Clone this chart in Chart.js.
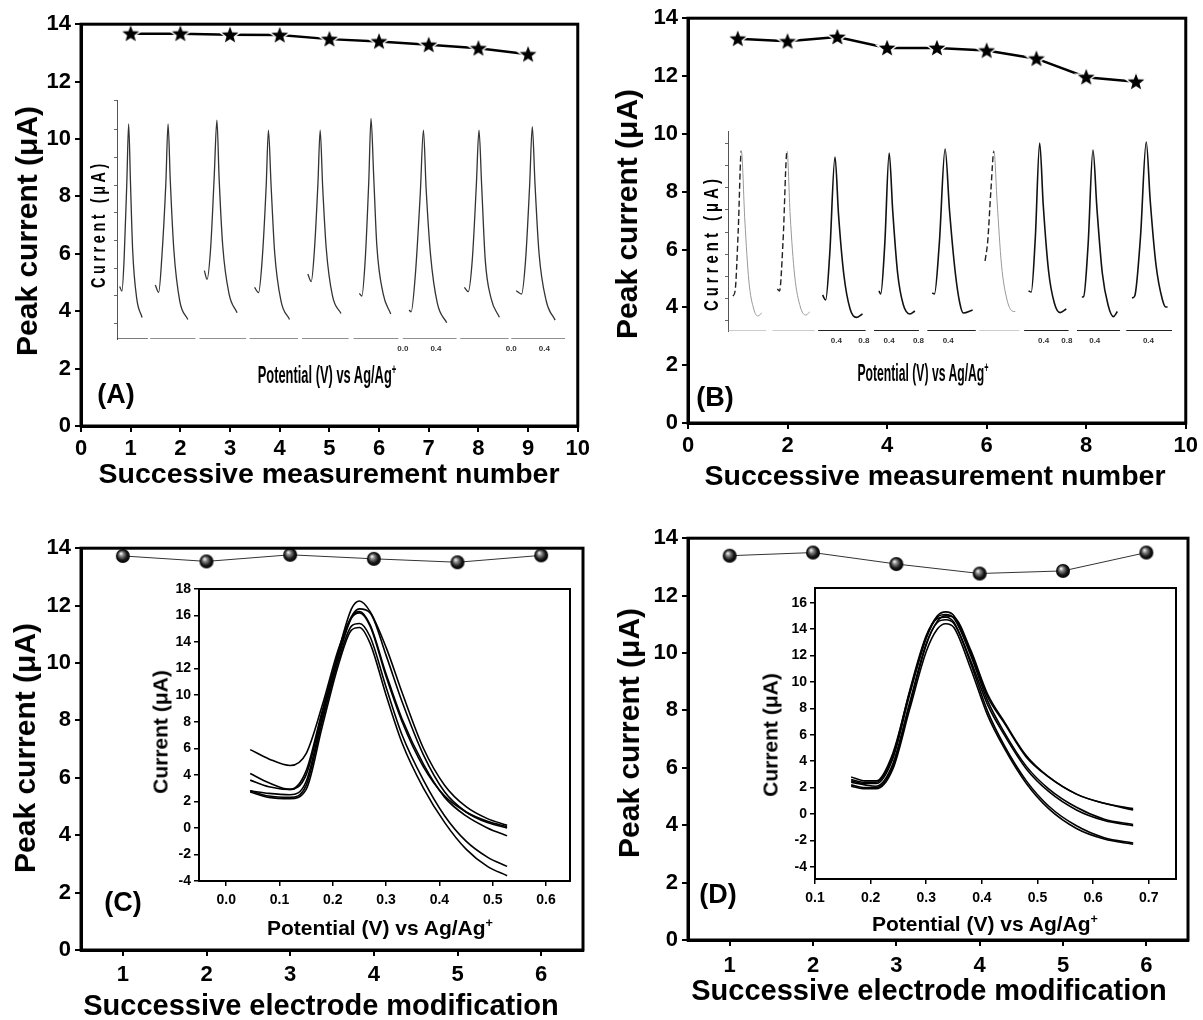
<!DOCTYPE html>
<html>
<head>
<meta charset="utf-8">
<title>Peak current stability</title>
<script src="https://cdn.jsdelivr.net/npm/chart.js@4.4.1/dist/chart.umd.min.js"></script>
<style>
  body { margin:0; width:1203px; height:1020px; position:relative; background:#fff; overflow:hidden;
         font-family:"Liberation Sans", Arial, sans-serif; }
  canvas { position:absolute; }
  .lbl { position:absolute; z-index:2; font-weight:bold; white-space:nowrap; color:#000; line-height:1; }
  .lbl sup { font-size:60%; vertical-align:super; line-height:0; }
</style>
</head>
<body>
<!-- main axis titles -->
<div class="lbl" style="left:27px;top:231px;font-size:30px;transform:translate(-50%,-50%) rotate(-90deg)">Peak current (μA)</div>
<div class="lbl" style="left:627px;top:214px;font-size:30px;transform:translate(-50%,-50%) rotate(-90deg)">Peak current (μA)</div>
<div class="lbl" style="left:25px;top:748px;font-size:30px;transform:translate(-50%,-50%) rotate(-90deg)">Peak current (μA)</div>
<div class="lbl" style="left:629px;top:733px;font-size:30px;transform:translate(-50%,-50%) rotate(-90deg)">Peak current (μA)</div>
<div class="lbl" style="left:329px;top:473px;font-size:28.5px;transform:translate(-50%,-50%)">Successive measurement number</div>
<div class="lbl" style="left:935px;top:475px;font-size:28.5px;transform:translate(-50%,-50%)">Successive measurement number</div>
<div class="lbl" style="left:321px;top:1005px;font-size:29px;transform:translate(-50%,-50%)">Successive electrode modification</div>
<div class="lbl" style="left:929px;top:990px;font-size:29px;transform:translate(-50%,-50%)">Successive electrode modification</div>
<!-- panel letters -->
<div class="lbl" style="left:116px;top:394px;font-size:27px;transform:translate(-50%,-50%)">(A)</div>
<div class="lbl" style="left:715px;top:397px;font-size:27px;transform:translate(-50%,-50%)">(B)</div>
<div class="lbl" style="left:123px;top:902px;font-size:27px;transform:translate(-50%,-50%)">(C)</div>
<div class="lbl" style="left:718px;top:894px;font-size:27px;transform:translate(-50%,-50%)">(D)</div>
<!-- inset titles -->
<div class="lbl" style="left:327px;top:375px;font-size:23px;transform:translate(-50%,-50%) scaleX(0.56)">Potential (V) vs Ag/Ag<sup>+</sup></div>
<div class="lbl" style="left:923px;top:373px;font-size:23px;transform:translate(-50%,-50%) scaleX(0.53)">Potential (V) vs Ag/Ag<sup>+</sup></div>
<div class="lbl" style="left:98px;top:224px;font-size:20px;letter-spacing:5px;transform:translate(-50%,-50%) rotate(-90deg) scaleX(0.72)">Current (μA)</div>
<div class="lbl" style="left:711px;top:243px;font-size:20px;letter-spacing:5.5px;transform:translate(-50%,-50%) rotate(-90deg) scaleX(0.74)">Current (μA)</div>
<div class="lbl" style="left:380px;top:927px;font-size:21px;transform:translate(-50%,-50%)">Potential (V) vs Ag/Ag<sup>+</sup></div>
<div class="lbl" style="left:985px;top:923px;font-size:21px;transform:translate(-50%,-50%)">Potential (V) vs Ag/Ag<sup>+</sup></div>
<div class="lbl" style="left:160px;top:732px;font-size:21px;transform:translate(-50%,-50%) rotate(-90deg)">Current (μA)</div>
<div class="lbl" style="left:770px;top:735px;font-size:21px;transform:translate(-50%,-50%) rotate(-90deg)">Current (μA)</div>

<script>
// ---- values ----
const runNo = [1, 2, 3, 4, 5, 6, 7, 8, 9];
const peakA = [13.67, 13.67, 13.63, 13.62, 13.48, 13.40, 13.28, 13.16, 12.95];
const peakB = [13.29, 13.20, 13.35, 12.97, 12.97, 12.88, 12.60, 11.96, 11.80];
const modNo = [1, 2, 3, 4, 5, 6];
const peakC = [13.73, 13.54, 13.77, 13.63, 13.51, 13.75];
const peakD = [13.39, 13.50, 13.10, 12.77, 12.86, 13.50];

const ticksY14 = [0, 2, 4, 6, 8, 10, 12, 14];
const ticksX10A = [0, 1, 2, 3, 4, 5, 6, 7, 8, 9, 10];
const ticksX10B = [0, 2, 4, 6, 8, 10];

// inset A/B: nine stored voltammograms side by side (inset units)
const tracesA = [
  [[0.6,2.2],[1.1,2.0],[1.6,3.4],[2.2,6.6],[2.6,9.0],[3.0,6.6],[3.5,3.7],[4.4,1.7],[5.6,0.9]],
  [[8.55,2.26],[9.3,1.95],[10.0,3.4],[10.9,6.5],[11.4,9.0],[11.9,6.6],[12.7,3.7],[14.0,1.6],[15.8,0.82]],
  [[19.5,2.86],[20.1,2.5],[20.9,3.8],[21.7,6.8],[22.3,9.16],[22.8,6.7],[23.6,3.9],[25.0,1.9],[26.8,1.1]],
  [[30.7,2.16],[31.6,1.94],[32.4,3.3],[33.3,6.4],[33.8,8.74],[34.4,6.4],[35.2,3.6],[36.6,1.6],[38.5,0.82]],
  [[42.6,2.72],[43.35,2.4],[44.05,3.67],[44.85,6.5],[45.35,8.74],[45.9,6.4],[46.7,3.8],[48.1,1.8],[50.0,1.07]],
  [[54.1,1.91],[54.65,1.8],[55.4,3.3],[56.2,6.6],[56.7,9.23],[57.3,6.8],[58.0,3.9],[59.4,1.9],[61.1,1.05]],
  [[65.2,1.21],[65.65,1.14],[66.6,2.7],[67.7,6.1],[68.4,8.74],[69.0,6.3],[70.0,3.5],[71.5,1.5],[73.6,0.68]],
  [[77.55,2.16],[78.4,1.98],[79.3,3.3],[80.2,6.4],[80.8,8.74],[81.4,6.4],[82.2,3.3],[83.5,1.7],[85.35,0.91]],
  [[89.1,2.02],[90.3,1.88],[91.2,3.3],[92.1,6.4],[92.7,8.88],[93.3,6.5],[94.2,3.6],[95.8,1.6],[97.8,0.79]]
];
const tracesB = [
  [[1.1,1.75],[1.6,2.0],[2.3,5.0],[3.0,9.0],[3.8,5.5],[4.7,2.5],[5.8,1.1],[6.7,0.75],[7.6,0.9]],
  [[11.1,2.1],[11.6,2.0],[12.4,4.5],[13.3,9.0],[14.0,5.8],[15.0,2.8],[16.3,1.2],[17.5,0.8],[18.4,0.95]],
  [[21.3,1.8],[22.0,1.55],[22.9,3.8],[24.1,8.7],[24.9,5.8],[26.1,2.8],[27.5,1.1],[28.9,0.68],[30.3,0.85]],
  [[34.0,2.0],[34.4,1.85],[35.3,4.3],[36.3,8.9],[37.1,6.0],[38.2,2.9],[39.5,1.3],[41.0,0.85],[42.1,1.0]],
  [[46.0,1.9],[46.5,1.85],[47.6,4.4],[48.9,9.1],[49.9,6.0],[51.2,2.9],[52.2,1.4],[53.0,0.9],[55.1,1.05]],
  [[57.9,3.5],[58.5,4.5],[59.2,7.0],[59.9,9.0],[60.6,6.5],[61.6,3.3],[62.8,1.6],[64.0,1.0],[64.7,0.97]],
  [[67.7,2.0],[68.3,1.95],[69.2,4.6],[70.2,9.4],[71.0,6.3],[72.2,3.0],[73.5,1.4],[74.8,0.92],[76.2,1.1]],
  [[79.7,1.7],[80.1,1.72],[81.1,4.3],[82.2,9.05],[83.1,6.1],[84.3,2.9],[85.6,1.3],[86.8,0.72],[87.7,0.97]],
  [[91.0,1.65],[91.6,1.75],[92.9,4.7],[94.2,9.45],[95.1,6.5],[96.4,3.3],[97.8,1.6],[98.6,1.2],[99.0,1.2]]
];
const faintB = [true, true, false, false, false, true, false, false, false];
const segA = [[0,6.9],[7.4,17.5],[18.4,28.8],[29.6,40.4],[41.3,51.7],[52.8,62.8],[63.8,75.8],[76.6,87.4],[88.0,100]];
const segB = [[0,8.6],[10.0,19.5],[20.3,31.0],[32.9,43.0],[44.9,55.8],[56.6,65.6],[66.7,76.7],[78.6,88.3],[89.7,100]];
const segLabA = [[63.8,'0.0'],[71.2,'0.4'],[88.0,'0.0'],[95.4,'0.4']];
const segLabB = [[24.4,'0.4'],[30.6,'0.8'],[36.3,'0.4'],[42.9,'0.8'],[49.6,'0.4'],[71.1,'0.4'],[76.3,'0.8'],[82.6,'0.4'],[94.7,'0.4']];
const yTickA = [0.63, 1.8, 2.96, 4.11, 5.29, 6.44, 7.6, 8.77, 9.97];
const yTickB = [0.55, 1.64, 2.75, 3.85, 4.95, 6.09, 7.17, 8.27, 9.39];

// inset C/D: overlaid DPV scans
const potC = [0.045,0.08,0.12,0.15,0.18,0.21,0.235,0.25,0.27,0.30,0.33,0.37,0.41,0.45,0.49,0.527];
const curC = [
  [5.9,5.2,4.7,5.6,9.2,13.4,15.9,16.3,15.3,11.6,8.2,4.8,2.3,0.9,0.0,-0.6],
  [4.1,3.4,2.9,4.0,8.6,13.2,16.5,17.1,16.3,13.6,10.2,6.0,3.2,1.6,0.7,0.2],
  [3.6,3.1,2.9,4.3,8.8,13.0,15.9,16.5,16.2,13.0,9.5,5.5,2.7,1.2,0.4,0.0],
  [2.8,2.6,2.5,3.5,8.3,12.8,15.8,16.2,15.2,11.4,8.0,4.6,2.4,1.2,0.5,0.1],
  [2.8,2.4,2.3,3.2,8.0,12.5,15.2,15.4,14.4,10.6,7.0,3.6,0.9,-1.0,-2.2,-2.9],
  [2.7,2.3,2.2,2.9,7.6,12.2,14.9,15.1,13.9,10.0,6.4,3.0,0.4,-1.6,-2.9,-3.6]
];
const potD = [0.165,0.19,0.21,0.24,0.27,0.30,0.32,0.335,0.35,0.38,0.41,0.44,0.48,0.52,0.57,0.62,0.672];
const curD = [
  [2.8,2.5,2.5,4.6,9.2,13.4,15.0,15.3,15.0,12.2,8.9,6.9,4.3,2.8,1.5,0.8,0.4],
  [2.2,2.0,2.0,3.6,8.2,12.8,14.6,15.0,14.9,12.4,9.1,7.0,4.4,2.8,1.5,0.8,0.3],
  [2.5,2.3,2.3,4.2,9.0,13.3,14.9,15.1,14.8,12.0,8.6,6.2,3.6,1.9,0.5,-0.4,-0.8],
  [2.4,2.2,2.1,3.8,8.4,12.9,14.5,14.7,14.4,11.6,8.3,6.0,3.4,1.7,0.3,-0.5,-0.9],
  [2.6,2.4,2.4,4.4,9.3,13.5,14.8,14.9,14.5,11.4,7.8,5.2,2.5,0.6,-0.9,-1.8,-2.2],
  [2.1,1.9,1.9,3.4,7.9,12.3,14.0,14.4,14.1,11.0,7.5,5.0,2.3,0.4,-1.1,-1.9,-2.3]
];
const ticksC_x = [0, 0.1, 0.2, 0.3, 0.4, 0.5, 0.6];
const ticksC_y = [-4, -2, 0, 2, 4, 6, 8, 10, 12, 14, 16, 18];
const ticksD_x = [0.1, 0.2, 0.3, 0.4, 0.5, 0.6, 0.7];
const ticksD_y = [-4, -2, 0, 2, 4, 6, 8, 10, 12, 14, 16];

// ---- drawing ----
Chart.defaults.font.family = '"Liberation Sans", Arial, sans-serif';
Chart.defaults.color = '#000';

const PAD = 16;
function mount(area, mL, mB) {
  const cv = document.createElement('canvas');
  cv.width = area.r - area.l + mL + PAD;
  cv.height = area.b - area.t + mB + PAD;
  cv.style.left = (area.l - mL) + 'px';
  cv.style.top = (area.t - PAD) + 'px';
  document.body.appendChild(cv);
  return cv;
}

// box around the plot area
const frame = {
  id: 'frame',
  afterDraw(chart, args, opts) {
    const a = chart.chartArea, ctx = chart.ctx;
    ctx.save();
    ctx.lineWidth = opts.width || 3;
    ctx.strokeStyle = '#000';
    ctx.strokeRect(a.left, a.top, a.right - a.left, a.bottom - a.top);
    ctx.restore();
  }
};

// tiny potential labels under the inset baselines
const segLabels = {
  id: 'segLabels',
  afterDatasetsDraw(chart, args, opts) {
    if (!opts.items) return;
    const ctx = chart.ctx, xs = chart.scales.x, ys = chart.scales.y;
    ctx.save();
    ctx.font = 'bold 8px "Liberation Sans Narrow", "Liberation Sans", Arial';
    ctx.fillStyle = '#333';
    ctx.textAlign = 'center';
    ctx.textBaseline = 'middle';
    opts.items.forEach(([x, t]) => ctx.fillText(t, xs.getPixelForValue(x), ys.getPixelForValue(opts.y)));
    ctx.restore();
  }
};

function starImg() {
  const c = document.createElement('canvas');
  c.width = c.height = 24;
  const g = c.getContext('2d');
  g.beginPath();
  for (let i = 0; i < 10; i++) {
    const r = i % 2 ? 3.7 : 8.8, a = -Math.PI / 2 + i * Math.PI / 5;
    g.lineTo(12 + r * Math.cos(a), 12.5 + r * Math.sin(a));
  }
  g.closePath();
  g.lineWidth = 3; g.strokeStyle = '#fff'; g.stroke();
  g.fillStyle = '#000'; g.fill();
  return c;
}
function ballImg() {
  const c = document.createElement('canvas');
  c.width = c.height = 16;
  const g = c.getContext('2d');
  const gr = g.createRadialGradient(6, 5.5, 0.4, 8, 8, 7.5);
  gr.addColorStop(0, '#f0f0f0');
  gr.addColorStop(0.25, '#888');
  gr.addColorStop(0.65, '#161616');
  gr.addColorStop(1, '#000');
  g.fillStyle = gr;
  g.beginPath(); g.arc(8, 8, 7, 0, Math.PI * 2); g.fill();
  return c;
}
const STAR = starImg(), BALL = ballImg();

function mainChart(area, xs, ys, o) {
  return new Chart(mount(area, 80, 40), {
    type: 'line',
    data: { datasets: [{
      data: xs.map((x, i) => ({ x, y: ys[i] })),
      borderColor: o.lineColor, borderWidth: o.lineWidth,
      pointStyle: o.marker, pointRadius: 7, clip: false
    }] },
    options: {
      responsive: false, animation: false,
      layout: { padding: { top: PAD, right: PAD, left: 0, bottom: 0 } },
      plugins: { legend: { display: false }, tooltip: { enabled: false }, frame: { width: 3 } },
      scales: {
        x: {
          type: 'linear', min: o.xMin, max: o.xMax,
          afterFit: s => { s.height = 40; },
          afterBuildTicks: s => { s.ticks = o.xTicks.map(v => ({ value: v })); },
          ticks: { font: { size: 22, weight: 'bold' }, color: '#000', padding: o.xPad, maxRotation: 0 },
          grid: { drawOnChartArea: false, tickLength: 6, color: '#000', lineWidth: 2 },
          border: { color: '#000', width: 3 }
        },
        y: {
          min: 0, max: 14,
          afterFit: s => { s.width = 80; },
          afterBuildTicks: s => { s.ticks = ticksY14.map(v => ({ value: v })); },
          ticks: { font: { size: 22, weight: 'bold' }, color: '#000', padding: 4 },
          grid: { drawOnChartArea: false, tickLength: 6, color: '#000', lineWidth: 2 },
          border: { color: '#000', width: 3 }
        }
      }
    },
    plugins: [frame]
  });
}

function traceInset(area, traces, segs, yTicks, labels, labY, faint) {
  const ds = [];
  segs.forEach((s, i) => ds.push({
    data: [{ x: s[0], y: 0 }, { x: s[1], y: 0 }],
    borderColor: faint && faint[i] ? '#999' : '#222',
    borderWidth: faint && faint[i] ? 1 : (faint ? 2 : 1.2), pointRadius: 0
  }));
  traces.forEach((t, i) => {
    const f = faint && faint[i];
    ds.push({
      data: t.map(p => ({ x: p[0], y: p[1] })),
      borderColor: faint ? '#111' : '#333',
      borderWidth: faint ? 1.6 : 1.3,
      pointRadius: 0, cubicInterpolationMode: 'monotone', clip: false,
      segment: f ? {
        borderDash: c => c.p1DataIndex <= 3 ? [6, 3] : undefined,
        borderColor: c => c.p1DataIndex <= 3 ? '#222' : '#999',
        borderWidth: c => c.p1DataIndex <= 3 ? 1.4 : 1
      } : undefined
    });
  });
  const cv = mount(area, 4, 0);
  cv.height = cv.height + 16;
  return new Chart(cv, {
    type: 'line',
    data: { datasets: ds },
    options: {
      responsive: false, animation: false,
      layout: { padding: { top: PAD, right: PAD, left: 0, bottom: 16 } },
      plugins: { legend: { display: false }, tooltip: { enabled: false }, segLabels: { items: labels, y: labY } },
      scales: {
        x: { type: 'linear', min: 0, max: 100, display: false },
        y: {
          min: 0, max: 10,
          afterFit: s => { s.width = 4; },
          afterBuildTicks: s => { s.ticks = yTicks.map(v => ({ value: v })); },
          ticks: { display: false },
          grid: { drawOnChartArea: false, tickLength: 3, color: '#666', lineWidth: 1 },
          border: { color: '#555', width: 1 }
        }
      }
    },
    plugins: [segLabels]
  });
}

function sweepInset(area, pot, curves, o) {
  return new Chart(mount(area, 40, 30), {
    type: 'line',
    data: { datasets: curves.map(c => ({
      data: pot.map((x, i) => ({ x, y: c[i] })),
      borderColor: '#000', borderWidth: 1.6, pointRadius: 0,
      cubicInterpolationMode: 'monotone'
    })) },
    options: {
      responsive: false, animation: false,
      layout: { padding: { top: PAD, right: PAD, left: 0, bottom: 0 } },
      plugins: { legend: { display: false }, tooltip: { enabled: false }, frame: { width: 2 } },
      scales: {
        x: {
          type: 'linear', min: o.xMin, max: o.xMax,
          afterFit: s => { s.height = 30; },
          afterBuildTicks: s => { s.ticks = o.xTicks.map(v => ({ value: v })); },
          ticks: { font: { size: 14, weight: 'bold' }, color: '#000', padding: 6, maxRotation: 0,
                   callback: v => v.toFixed(1) },
          grid: { drawOnChartArea: false, tickLength: 5, color: '#000', lineWidth: 1.5 },
          border: { color: '#000', width: 2 }
        },
        y: {
          min: o.yMin, max: o.yMax,
          afterFit: s => { s.width = 40; },
          afterBuildTicks: s => { s.ticks = o.yTicks.map(v => ({ value: v })); },
          ticks: { font: { size: 14, weight: 'bold' }, color: '#000', padding: 3 },
          grid: { drawOnChartArea: false, tickLength: 5, color: '#000', lineWidth: 1.5 },
          border: { color: '#000', width: 2 }
        }
      }
    },
    plugins: [frame]
  });
}

// panel A
mainChart({ l: 81, t: 23, r: 578, b: 426 }, runNo, peakA,
  { xMin: 0, xMax: 10, xTicks: ticksX10A, xPad: 4, lineColor: '#000', lineWidth: 2.5, marker: STAR });
traceInset({ l: 117, t: 100, r: 565, b: 339 }, tracesA, segA, yTickA, segLabA, -0.4, null);

// panel B
mainChart({ l: 688, t: 17, r: 1186, b: 423 }, runNo, peakB,
  { xMin: 0, xMax: 10, xTicks: ticksX10B, xPad: 4, lineColor: '#000', lineWidth: 2.5, marker: STAR });
traceInset({ l: 728, t: 131, r: 1172, b: 331 }, tracesB, segB, yTickB, segLabB, -0.48, faintB);

// panel C
mainChart({ l: 81, t: 547, r: 583, b: 950 }, modNo, peakC,
  { xMin: 0.5, xMax: 6.5, xTicks: modNo, xPad: 6, lineColor: '#333', lineWidth: 1, marker: BALL });
sweepInset({ l: 199, t: 589, r: 570, b: 881 }, potC, curC,
  { xMin: -0.051, xMax: 0.645, xTicks: ticksC_x, yMin: -4, yMax: 18, yTicks: ticksC_y });

// panel D
mainChart({ l: 688, t: 537, r: 1188, b: 940 }, modNo, peakD,
  { xMin: 0.5, xMax: 6.5, xTicks: modNo, xPad: 7, lineColor: '#333', lineWidth: 1, marker: BALL });
sweepInset({ l: 815, t: 588, r: 1176, b: 879 }, potD, curD,
  { xMin: 0.1, xMax: 0.749, xTicks: ticksD_x, yMin: -4.93, yMax: 17.11, yTicks: ticksD_y });
</script>
</body>
</html>
